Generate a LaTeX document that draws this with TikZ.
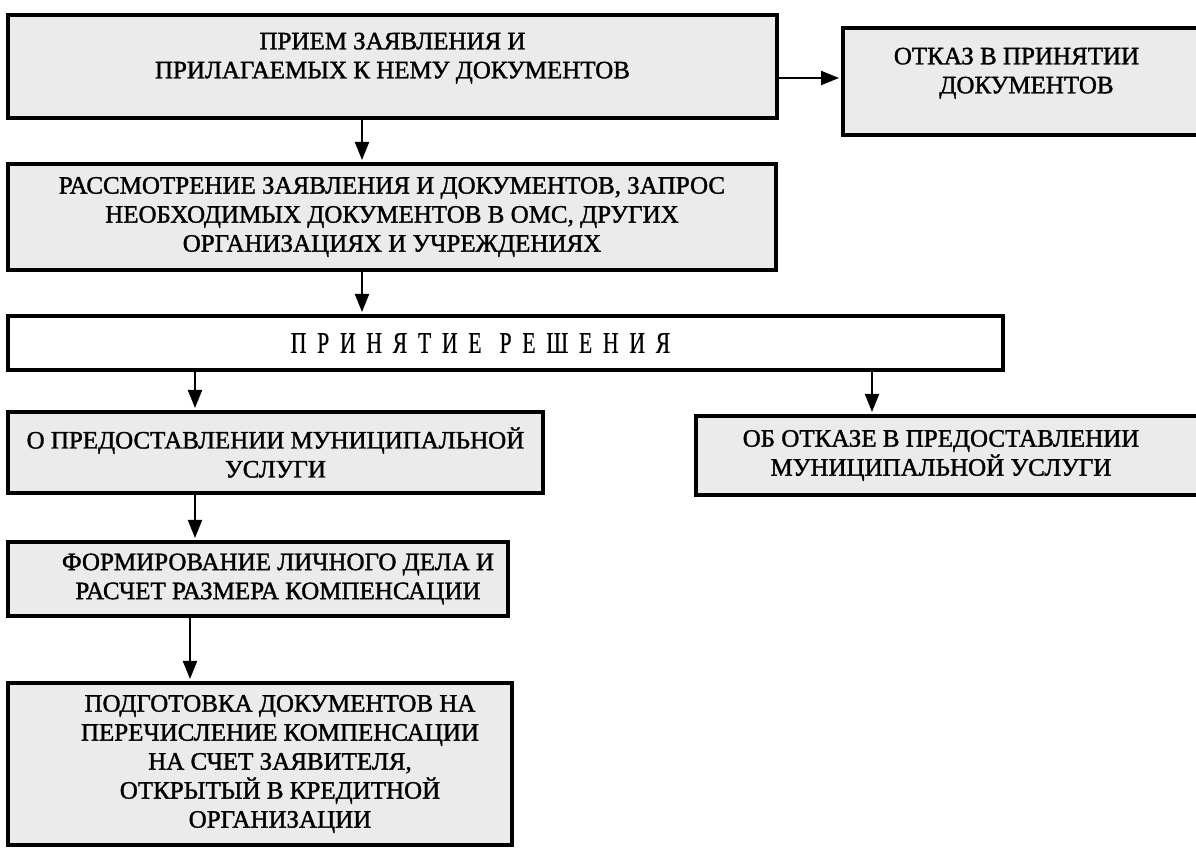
\documentclass[tikz,border=0pt]{standalone}
\usepackage{fontspec}
\setmainfont{Liberation Serif}[FakeBold=1.4]
\newfontfamily\spacedfont{Liberation Serif}[FakeStretch=0.72,LetterSpace=36,FakeBold=0.6]
\usetikzlibrary{arrows.meta}
\definecolor{boxfill}{gray}{0.92}
\tikzset{
  box/.style={draw=black, line width=2pt, fill=boxfill, align=center, inner sep=2pt,
    font=\fontsize{12.5}{14.5}\selectfont},
  plainbox/.style={box, fill=white},
  arr/.style={line width=1pt, -{Triangle[length=9pt,width=7pt]}, shorten >=1pt}
}
\begin{document}
\begin{tikzpicture}[x=0.5pt,y=-0.5pt]
\useasboundingbox[fill=white] (0,0) rectangle (1196,850);
% boxes
\node[box, minimum width=384.5pt, minimum height=51.5pt] (b1) at (392.5,66.5)
  {ПРИЕМ ЗАЯВЛЕНИЯ И\\ПРИЛАГАЕМЫХ К НЕМУ ДОКУМЕНТОВ\\[-3.5pt]};
\node[box, minimum width=183.5pt, minimum height=53.5pt] (b2) at (1026.5,81.5)
  {ОТКАЗ В ПРИНЯТИИ\hspace*{10pt}\\ДОКУМЕНТОВ\hspace*{10pt}\\[-3.5pt]};
\node[box, minimum width=384pt, minimum height=53pt] (b3) at (392,217)
  {РАССМОТРЕНИЕ ЗАЯВЛЕНИЯ И ДОКУМЕНТОВ, ЗАПРОС\\НЕОБХОДИМЫХ ДОКУМЕНТОВ В ОМС, ДРУГИХ\\ОРГАНИЗАЦИЯХ И УЧРЕЖДЕНИЯХ};
\node[plainbox, minimum width=497.5pt, minimum height=27pt] (b4) at (505.5,343)
  {\fontsize{15}{16}\spacedfont ПРИНЯТИЕ\hspace{9pt}РЕШЕНИЯ\hspace*{25pt}};
\node[box, minimum width=267.5pt, minimum height=40.5pt] (b5) at (275.5,452.5)
  {О ПРЕДОСТАВЛЕНИИ МУНИЦИПАЛЬНОЙ\\УСЛУГИ};
\node[box, minimum width=257pt, minimum height=39.5pt] (b6) at (953,455.5)
  {ОБ ОТКАЗЕ В ПРЕДОСТАВЛЕНИИ\hspace*{12pt}\\МУНИЦИПАЛЬНОЙ УСЛУГИ\hspace*{12pt}};
\node[box, minimum width=250pt, minimum height=37pt] (b7) at (258,579)
  {\hspace*{20pt}ФОРМИРОВАНИЕ ЛИЧНОГО ДЕЛА И\\\hspace*{20pt}РАСЧЕТ РАЗМЕРА КОМПЕНСАЦИИ};
\node[box, minimum width=252pt, minimum height=81pt] (b8) at (260,764)
  {\hspace*{20pt}ПОДГОТОВКА ДОКУМЕНТОВ НА\\\hspace*{20pt}ПЕРЕЧИСЛЕНИЕ КОМПЕНСАЦИИ\\\hspace*{20pt}НА СЧЕТ ЗАЯВИТЕЛЯ,\\\hspace*{20pt}ОТКРЫТЫЙ В КРЕДИТНОЙ\\\hspace*{20pt}ОРГАНИЗАЦИИ};
% arrow columns
\coordinate (xa) at (362,0);
\coordinate (xb) at (195,0);
\coordinate (xc) at (872,0);
\coordinate (xd) at (190,0);
\coordinate (ya) at (0,78);
% connectors
\draw[arr] (b1.east |- ya) -- (b2.west |- ya);
\draw[arr] (b1.south -| xa) -- (b3.north -| xa);
\draw[arr] (b3.south -| xa) -- (b4.north -| xa);
\draw[arr] (b4.south -| xb) -- (b5.north -| xb);
\draw[arr] (b4.south -| xc) -- (b6.north -| xc);
\draw[arr] (b5.south -| xb) -- (b7.north -| xb);
\draw[arr] (b7.south -| xd) -- (b8.north -| xd);
\end{tikzpicture}
\end{document}
